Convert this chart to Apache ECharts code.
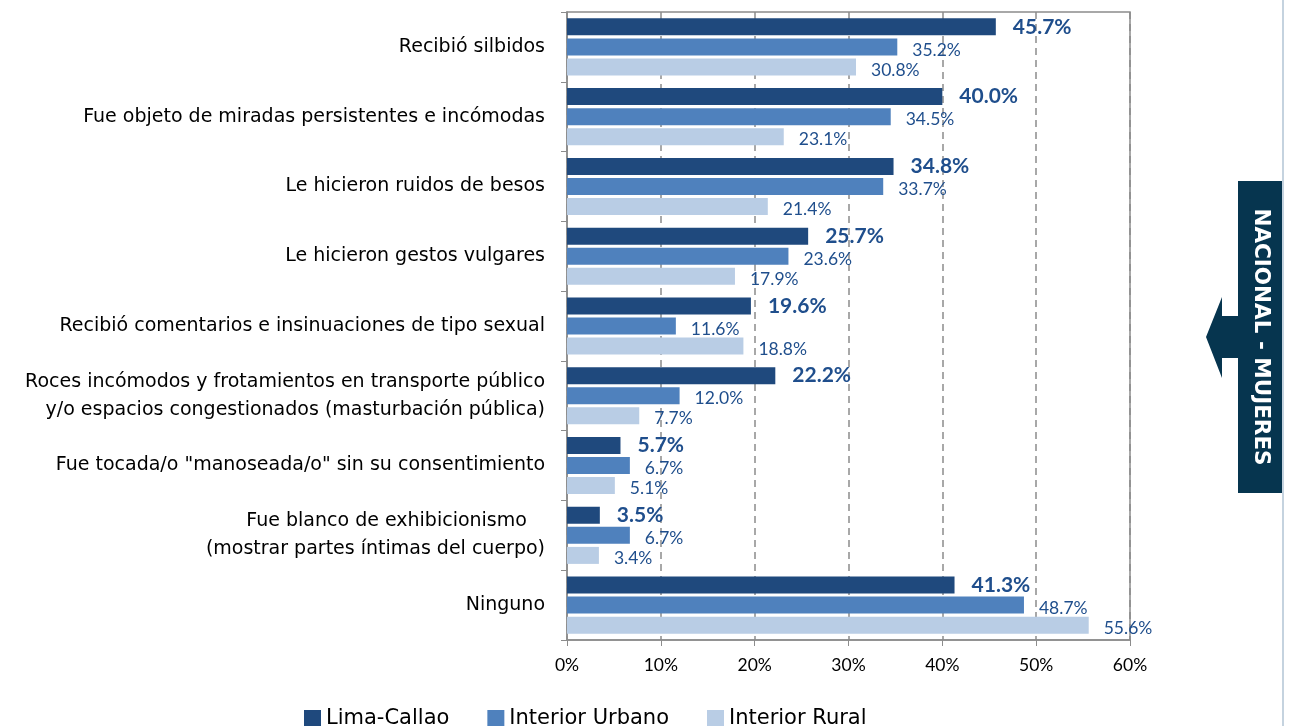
<!DOCTYPE html>
<html>
<head>
<meta charset="utf-8">
<script src="https://cdn.jsdelivr.net/npm/echarts@6/dist/echarts.min.js"></script>
<style>
  html, body { margin: 0; padding: 0; background: #fff; }
  #main { width: 1293px; height: 726px; }
</style>
</head>
<body>
<div id="main"></div>
<script>
// categorías (de arriba hacia abajo)
var categorias = [
    'Recibió silbidos',
    'Fue objeto de miradas persistentes e incómodas',
    'Le hicieron ruidos de besos',
    'Le hicieron gestos vulgares',
    'Recibió comentarios e insinuaciones de tipo sexual',
    'Roces incómodos y frotamientos en transporte público\ny/o espacios congestionados (masturbación pública)',
    'Fue tocada/o "manoseada/o" sin su consentimiento',
    'Fue blanco de exhibicionismo   \n(mostrar partes íntimas del cuerpo)',
    'Ninguno'
];
var series_nombres = ['Lima-Callao', 'Interior Urbano', 'Interior Rural'];
var limaCallao = [45.7, 40.0, 34.8, 25.7, 19.6, 22.2, 5.7, 3.5, 41.3];
var interiorUrbano = [35.2, 34.5, 33.7, 23.6, 11.6, 12.0, 6.7, 6.7, 48.7];
var interiorRural = [30.8, 23.1, 21.4, 17.9, 18.8, 7.7, 5.1, 3.4, 55.6];
var ticksX = ['0%', '10%', '20%', '30%', '40%', '50%', '60%'];

var colores = ['#1f497d', '#4f81bd', '#b9cde5'];
var fuente = 'Lato, "Open Sans", sans-serif';
var fuenteAncha = '"DejaVu Sans", sans-serif';

var myChart = echarts.init(document.getElementById('main'));

function etiqueta(negrita) {
    return {
        show: true,
        position: 'right',
        distance: negrita ? 17 : 15,
        offset: negrita ? [0, 0] : [0, 3],
        color: '#1f4e8c',
        fontFamily: fuente,
        fontSize: negrita ? 21 : 17.5,
        fontWeight: negrita ? 'bold' : 'normal',
        formatter: function (p) { return p.value.toFixed(1) + '%'; }
    };
}

var option = {
    animation: false,
    textStyle: { fontFamily: fuente },
    grid: {
        left: 567, right: 163, top: 12, bottom: 86,
        show: true, borderColor: '#8c8c8c', borderWidth: 1.5
    },
    legend: {
        data: series_nombres,
        left: 299, top: 703,
        itemWidth: 17, itemHeight: 17, itemGap: 38,
        icon: 'rect',
        textStyle: { fontSize: 21, color: '#000', fontFamily: fuenteAncha }
    },
    xAxis: {
        type: 'value',
        min: 0, max: 60, interval: 10,
        axisLine: { show: true, lineStyle: { color: '#8c8c8c', width: 1.5 } },
        axisTick: { show: true, length: 6, lineStyle: { color: '#8c8c8c' } },
        axisLabel: {
            fontSize: 17.5, color: '#000', margin: 16,
            formatter: function (v) { return ticksX[v / 10]; }
        },
        splitLine: { show: true, lineStyle: { color: '#8c8c8c', type: [7, 5], width: 1.5 } }
    },
    yAxis: {
        type: 'category',
        inverse: true,
        data: categorias,
        axisLine: { show: true, lineStyle: { color: '#8c8c8c', width: 1.5 } },
        axisTick: { show: true, length: 6, lineStyle: { color: '#8c8c8c' } },
        axisLabel: {
            fontSize: 19, color: '#000', margin: 22, lineHeight: 28,
            fontFamily: fuenteAncha, align: 'right'
        }
    },
    series: [
        {
            name: series_nombres[0], type: 'bar', data: limaCallao,
            barWidth: 17, barGap: '18%',
            itemStyle: { color: colores[0] },
            label: etiqueta(true)
        },
        {
            name: series_nombres[1], type: 'bar', data: interiorUrbano,
            barWidth: 17, barGap: '18%',
            itemStyle: { color: colores[1] },
            label: etiqueta(false)
        },
        {
            name: series_nombres[2], type: 'bar', data: interiorRural,
            barWidth: 17, barGap: '18%',
            itemStyle: { color: colores[2] },
            label: etiqueta(false)
        }
    ],
    graphic: [
        {
            type: 'line', silent: true,
            shape: { x1: 1283, y1: 0, x2: 1283, y2: 726 },
            style: { stroke: '#c5d3df', lineWidth: 2 }
        },
        {
            type: 'rect', silent: true,
            shape: { x: 1238, y: 181, width: 44, height: 312 },
            style: { fill: '#06354f' }
        },
        {
            type: 'polygon', silent: true,
            shape: { points: [[1206, 337], [1222, 297], [1222, 316], [1238, 316], [1238, 358], [1222, 358], [1222, 378]] },
            style: { fill: '#06354f' }
        },
        {
            type: 'text', silent: true,
            x: 1261, y: 337, rotation: -Math.PI / 2,
            style: {
                text: 'NACIONAL - MUJERES',
                fill: '#fff', font: 'bold 21.5px ' + fuenteAncha,
                align: 'center', verticalAlign: 'middle'
            }
        }
    ]
};

myChart.setOption(option);
</script>
</body>
</html>
